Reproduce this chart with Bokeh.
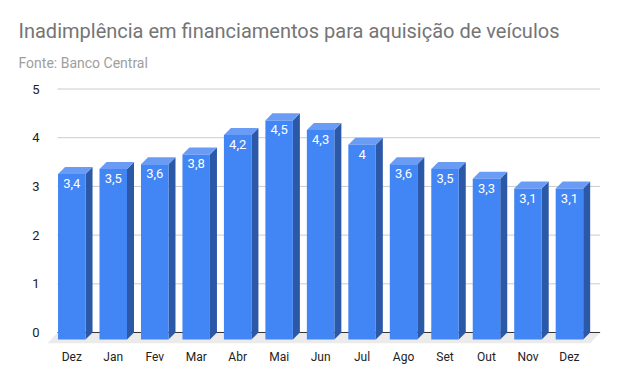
import numpy as np
from bokeh.plotting import figure
from bokeh.models import Range1d, FixedTicker, Title, ColumnDataSource
from bokeh.core.properties import value
from bokeh.embed import file_html
from bokeh.resources import INLINE

# ---- data ----
months = ["Dez", "Jan", "Fev", "Mar", "Abr", "Mai", "Jun", "Jul", "Ago", "Set", "Out", "Nov", "Dez"]
values = [3.4, 3.5, 3.6, 3.8, 4.2, 4.5, 4.3, 4.0, 3.6, 3.5, 3.3, 3.1, 3.1]
y_ticks = [0, 1, 2, 3, 4, 5]
title_text = "Inadimplência em financiamentos para aquisição de veículos"
subtitle_text = "Fonte: Banco Central"

FONT = "Roboto"
FRONT = "#4285F4"
SIDE = "#2C58A8"
TOP = "#6A9CF6"

# ---- geometry (in data units) ----
W = 0.663      # front face width (slot = 1)
DX = 0.169     # depth offset in x
DY = 0.144     # depth offset in y
G0 = -0.345    # grid start
G1 = 12.74     # grid end

p = figure(width=612, height=375, output_backend="svg", toolbar_location=None,
           title=None,
           x_range=Range1d(-0.658, 12.894), y_range=Range1d(-0.267, 5.175),
           min_border_left=44, min_border_right=6, min_border_top=80, min_border_bottom=30)
p.outline_line_color = None
p.background_fill_color = "white"
p.border_fill_color = "white"
p.xgrid.visible = False
p.ygrid.visible = False

# floor
fl_dx, fl_dy = 0.24, 0.22
p.patch([G0, G1, G1 - fl_dx, G0 - fl_dx], [0, 0, -fl_dy, -fl_dy],
        fill_color="#EBEBEB", line_color=None)

# gridlines
gy = [t for t in y_ticks if t > 0]
p.segment(x0=[G0] * len(gy), x1=[G1] * len(gy), y0=gy, y1=gy,
          line_color="#CCCCCC", line_width=1)
p.segment(x0=[G0], x1=[G1], y0=[0], y1=[0], line_color="#333333", line_width=1)

idx = np.arange(len(values))
v = np.array(values)

# side faces
side_xs = [[i + W / 2, i + W / 2 + DX, i + W / 2 + DX, i + W / 2] for i in idx]
side_ys = [[-DY, 0, val, val - DY] for val in v]
p.patches(side_xs, side_ys, fill_color=SIDE, line_color=None)

# top faces
top_xs = [[i - W / 2, i + W / 2, i + W / 2 + DX, i - W / 2 + DX] for i in idx]
top_ys = [[val - DY, val - DY, val, val] for val in v]
p.patches(top_xs, top_ys, fill_color=TOP, line_color=None)

# front faces
src = ColumnDataSource(dict(x=idx, top=v - DY,
                            lab=[f"{x:g}".replace(".", ",") for x in values]))
p.vbar(x="x", top="top", bottom=-DY, width=W, source=src,
       fill_color=FRONT, line_color=None)
p.text(x="x", y="top", text="lab", source=src, text_align="center",
       text_baseline="top", y_offset=5, text_color="white",
       text_font=value(FONT), text_font_size="13px")

# axes
p.xaxis.ticker = FixedTicker(ticks=list(idx))
p.xaxis.major_label_overrides = {int(i): m for i, m in zip(idx, months)}
p.yaxis.ticker = FixedTicker(ticks=y_ticks)
for ax in (p.xaxis[0], p.yaxis[0]):
    ax.axis_line_color = None
    ax.major_tick_line_color = None
    ax.minor_tick_line_color = None
    ax.major_tick_out = 0
    ax.major_tick_in = 0
    ax.minor_tick_out = 0
    ax.minor_tick_in = 0
    ax.major_label_text_font = FONT
    ax.major_label_text_color = "#222222"
p.xaxis.major_label_text_font_size = "12px"
p.xaxis.major_label_standoff = 4
p.yaxis.major_label_text_font_size = "13px"
p.yaxis.major_label_standoff = 5

# titles (subtitle nearest the frame, main title above it)
p.add_layout(Title(text=subtitle_text, text_font=FONT, text_font_size="14px",
                   text_color="#9E9E9E", text_font_style="normal",
                   align="left", offset=-26, standoff=19), "above")
p.add_layout(Title(text=title_text, text_font=FONT, text_font_size="20px",
                   text_color="#757575", text_font_style="normal",
                   align="left", offset=-26, standoff=2), "above")

open("out.html", "w").write(file_html(p, INLINE))
